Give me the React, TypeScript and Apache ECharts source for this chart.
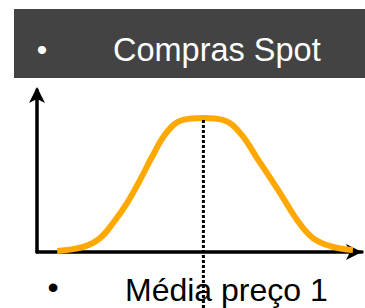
import React, { useEffect, useRef } from 'react';
import * as echarts from 'echarts';

// Text
const headerBullet = '•';
const headerText = 'Compras Spot';
const footerBullet = '•';
const footerText = 'Média preço 1';

// Curve (x: 0..100 along horizontal axis, y: 0..100 along vertical axis)
const curveX = [6.2, 14.2, 19.4, 23.4, 27.7, 31.7, 35.7, 40.0, 44.9, 51.2, 57.2, 62.5, 67.7, 74.8, 80.0, 84.9, 91.1, 97.2];
const curveY = [0.6, 3.1, 8.6, 17.9, 30.2, 44.4, 59.9, 74.1, 81.5, 82.7, 81.5, 73.5, 58.0, 36.4, 19.8, 8.6, 3.1, 1.2];

// Mean reference (dotted vertical line)
const meanX = 51.2;
const meanLineY = [81.5, -36];

export default function App() {
  const ref = useRef<HTMLDivElement>(null);

  useEffect(() => {
    if (!ref.current) return;
    const chart = echarts.init(ref.current, undefined, { renderer: 'svg' });
    const curveData = curveX.map((x, i) => [x, curveY[i]]);
    const meanData = meanLineY.map((y) => [meanX, y]);
    const font = '"Liberation Sans", Arial, sans-serif';

    chart.setOption({
      animation: false,
      backgroundColor: '#ffffff',
      grid: { left: 37, right: 3, top: 90, bottom: 56, containLabel: false },
      xAxis: {
        type: 'value',
        min: 0,
        max: 100,
        axisLine: {
          show: true,
          symbol: ['none', 'arrow'],
          symbolSize: [12, 16],
          lineStyle: { color: '#000', width: 3.5 },
        },
        axisTick: { show: false },
        axisLabel: { show: false },
        splitLine: { show: false },
      },
      yAxis: {
        type: 'value',
        min: 0,
        max: 100,
        axisLine: {
          show: true,
          symbol: ['none', 'arrow'],
          symbolSize: [12, 16],
          symbolOffset: [0, 3],
          lineStyle: { color: '#000', width: 3.5 },
        },
        axisTick: { show: false },
        axisLabel: { show: false },
        splitLine: { show: false },
      },
      series: [
        {
          type: 'line',
          data: curveData,
          smooth: 0.4,
          showSymbol: false,
          symbol: 'none',
          lineStyle: { color: '#FFA800', width: 6 },
          z: 3,
        },
        {
          type: 'line',
          data: meanData,
          clip: false,
          showSymbol: false,
          symbol: 'none',
          lineStyle: { color: '#000', width: 3, type: [3, 2] },
          z: 4,
        },
      ],
      graphic: [
        {
          type: 'rect',
          shape: { x: 14, y: 9, width: 351, height: 69 },
          style: { fill: '#434343' },
          z: 10,
        },
        {
          type: 'text',
          x: 42,
          y: 49,
          style: {
            text: headerBullet,
            fill: '#ffffff',
            font: `30px ${font}`,
            align: 'center',
            verticalAlign: 'middle',
          },
          z: 11,
        },
        {
          type: 'text',
          x: 113,
          y: 50,
          style: {
            text: headerText,
            fill: '#ffffff',
            font: `32.5px ${font}`,
            align: 'left',
            verticalAlign: 'middle',
          },
          z: 11,
        },
        {
          type: 'text',
          x: 53,
          y: 287,
          style: {
            text: footerBullet,
            fill: '#000000',
            font: `32px ${font}`,
            align: 'center',
            verticalAlign: 'middle',
          },
          z: 11,
        },
        {
          type: 'text',
          x: 125,
          y: 290,
          style: {
            text: footerText,
            fill: '#000000',
            font: `32px ${font}`,
            align: 'left',
            verticalAlign: 'middle',
          },
          z: 11,
        },
      ],
    });

    return () => chart.dispose();
  }, []);

  return (
    <div
      ref={ref}
      style={{ position: 'fixed', left: 0, top: 0, width: 365, height: 308 }}
    />
  );
}
